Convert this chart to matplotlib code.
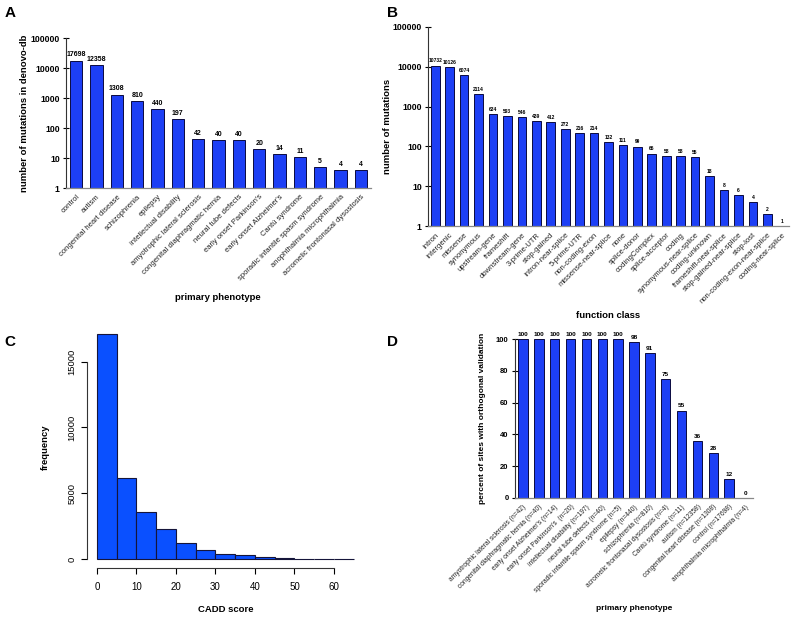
import numpy as np
import matplotlib
matplotlib.use("Agg")
import matplotlib.pyplot as plt

plt.rcParams['font.family'] = ['Liberation Sans', 'DejaVu Sans']

W, H = 796, 619

# A: mutations per primary phenotype
phenotypes = ["control", "autism", "congenital heart disease", "schizophrenia", "epilepsy",
              "intellectual disability", "amyotrophic lateral sclerosis",
              "congenital diaphragmatic hernia", "neural tube defects", "early onset Parkinson's",
              "early onset Alzheimer's", "Cantú syndrome", "sporadic infantile spasm syndrome",
              "anophthalmia microphthalmia", "acromelic frontonasal dysostosis"]
phenotype_counts = [17698, 12358, 1308, 810, 440, 197, 42, 40, 40, 20, 14, 11, 5, 4, 4]

# B: mutations per function class
func_classes = ["intron", "intergenic", "missense", "synonymous", "upstream-gene", "frameshift",
                "downstream-gene", "3-prime-UTR", "stop-gained", "intron-near-splice",
                "5-prime-UTR", "non-coding-exon", "missense-near-splice", "none", "splice-donor",
                "codingComplex", "splice-acceptor", "coding", "synonymous-near-splice",
                "coding-unknown", "frameshift-near-splice", "stop-gained-near-splice",
                "stop-lost", "non-coding-exon-near-splice", "coding-near-splice"]
func_counts = [10732, 10126, 6074, 2114, 634, 593, 546, 439, 412, 272, 216, 214, 132, 111, 99,
               66, 58, 58, 55, 18, 8, 6, 4, 2, 1]

# C: CADD score histogram
cadd_bins = [0, 5, 10, 15, 20, 25, 30, 35, 40, 45, 50, 55, 60, 65]
cadd_freq = [17100, 6160, 3580, 2280, 1220, 680, 380, 280, 120, 50, 20, 10, 5]

# D: validation percent
valid_labels = ["amyotrophic lateral sclerosis (n=42)", "congenital diaphragmatic hernia (n=40)",
                "early onset Alzheimer's (n=14)", "early onset Parkinson's  (n=20)",
                "intellectual disability (n=197)", "neural tube defects (n=40)",
                "sporadic infantile spasm syndrome (n=5)", "epilepsy (n=440)",
                "schizophrenia (n=810)", "acromelic frontonasal dysostosis (n=4)",
                "Cantú syndrome (n=11)", "autism (n=12358)", "congenital heart disease (n=1308)",
                "control (n=17698)", "anophthalmia microphthalmia (n=4)"]
valid_pct = [100, 100, 100, 100, 100, 100, 100, 98, 91, 75, 55, 36, 28, 12, 0]

BLUE = '#1d3ff5'
EDGE = '#0a0a40'

fig = plt.figure(figsize=(W / 100, H / 100), dpi=100)


def rect(l, t, r, b):
    return [l / W, 1 - b / H, (r - l) / W, (b - t) / H]


def ptext(x, y, s, **kw):
    fig.text(x / W, 1 - y / H, s, **kw)


def excel_bars(ax, labels, values, log, tick_fs, val_fs, lab_fs, yticks):
    x = np.arange(len(values))
    ax.bar(x, values, width=0.6, color=BLUE, edgecolor=EDGE, linewidth=0.7, zorder=2)
    if log:
        ax.set_yscale('log')
    for xi, v in zip(x, values):
        ax.annotate(str(v), (xi, v), xytext=(0, 1.5), textcoords='offset points',
                    ha='center', va='bottom', fontsize=val_fs, fontweight='bold')
    ax.set_xlim(-0.5, len(values) - 0.5)
    ax.set_yticks(yticks)
    ax.set_yticklabels([str(t) for t in yticks], fontsize=tick_fs, fontweight='bold')
    ax.minorticks_off()
    ax.set_xticks(x)
    ax.set_xticklabels(labels, rotation=45, ha='right', rotation_mode='anchor',
                       fontsize=lab_fs, color='#222')
    ax.tick_params(axis='x', length=0, pad=4)
    ax.tick_params(axis='y', direction='inout', length=5, width=0.8, pad=2)
    for s in ['top', 'right']:
        ax.spines[s].set_visible(False)
    ax.spines['left'].set_color('#333')
    ax.spines['left'].set_linewidth(0.8)
    ax.spines['bottom'].set_color('#888')
    ax.spines['bottom'].set_linewidth(0.9)


# Panel A
axA = fig.add_axes(rect(66, 38, 371, 188))
excel_bars(axA, phenotypes, phenotype_counts, True, 6.3, 5, 5.5,
           [1, 10, 100, 1000, 10000, 100000])
axA.set_ylim(1, 100000)
ptext(25, 113, "number of mutations in denovo-db", rotation=90, ha='center', va='center',
      fontsize=6.8, fontweight='bold')
ptext(218, 297, "primary phenotype", ha='center', va='center', fontsize=6.8, fontweight='bold')

# Panel B
axB = fig.add_axes(rect(428, 27, 789, 226))
excel_bars(axB, func_classes, func_counts, True, 6.3, 3.6, 5.5,
           [1, 10, 100, 1000, 10000, 100000])
axB.set_ylim(1, 100000)
ptext(388, 126, "number of mutations", rotation=90, ha='center', va='center',
      fontsize=6.8, fontweight='bold')
ptext(608, 315, "function class", ha='center', va='center', fontsize=6.8, fontweight='bold')

# Panel C (R-style histogram)
axC = fig.add_axes(rect(86.7, 325, 364, 568))
axC.bar(cadd_bins[:-1], cadd_freq, width=np.diff(cadd_bins), align='edge',
        color='#0a50ff', edgecolor='#15153a', linewidth=0.8)
axC.set_xlim(-2.6, 67.6)
axC.set_ylim(-684, 17784)
for s in ['top', 'right']:
    axC.spines[s].set_visible(False)
axC.spines['left'].set_bounds(0, 15000)
axC.spines['bottom'].set_bounds(0, 60)
for s in ['left', 'bottom']:
    axC.spines[s].set_color('#333')
    axC.spines[s].set_linewidth(0.8)
axC.set_xticks([0, 10, 20, 30, 40, 50, 60])
axC.set_yticks([0, 5000, 10000, 15000])
axC.tick_params(axis='x', direction='out', length=4, width=0.8, labelsize=7, pad=6)
axC.tick_params(axis='y', direction='out', length=4, width=0.8, labelsize=6.8, pad=3.5)
for lab in axC.get_yticklabels():
    lab.set_rotation(90)
    lab.set_va('center')
ptext(45, 447, "frequency", rotation=90, ha='center', va='center', fontsize=6.8,
      fontweight='bold')
ptext(226, 609, "CADD score", ha='center', va='center', fontsize=6.8, fontweight='bold')

# Panel D
axD = fig.add_axes(rect(515, 339, 753, 498))
excel_bars(axD, valid_labels, valid_pct, False, 5.5, 4.6, 4.8, [0, 20, 40, 60, 80, 100])
axD.set_ylim(0, 100)
ptext(483, 418, "percent of sites with orthogonal validation", rotation=90, ha='center',
      va='center', fontsize=6.0, fontweight='bold')
ptext(634, 609, "primary phenotype", ha='center', va='center', fontsize=6.0, fontweight='bold')

# panel letters
for x, y, s in [(10, 13, "A"), (392, 13, "B"), (10, 342, "C"), (393, 342, "D")]:
    ptext(x, y, s, ha='center', va='center', fontsize=11, fontweight='bold')

fig.savefig("out.png", dpi=100)
